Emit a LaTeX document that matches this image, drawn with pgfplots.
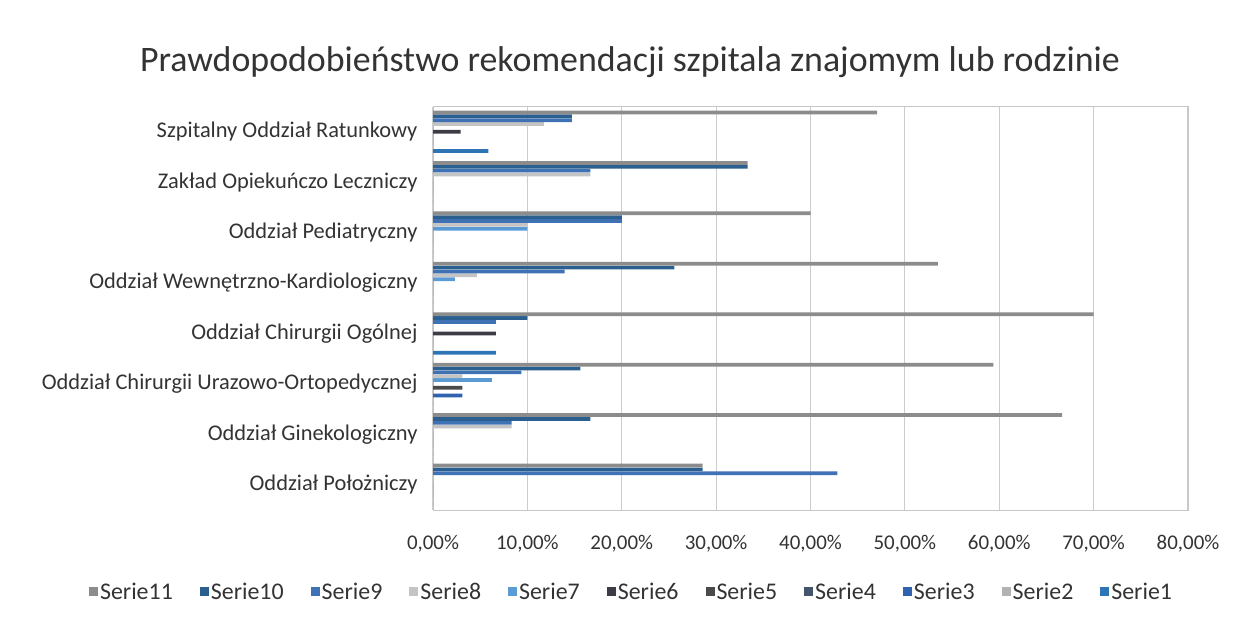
\documentclass[border=0pt]{standalone}
\usepackage{fontspec}
\setmainfont{Carlito}
\usepackage{pgfplots}
\pgfplotsset{compat=1.18}
\usepackage{pgfplotstable}
\definecolor{txt}{HTML}{333333}
\definecolor{c1}{HTML}{2E75B6}
\definecolor{c2}{HTML}{B2B2B2}
\definecolor{c3}{HTML}{2F63B0}
\definecolor{c4}{HTML}{44546A}
\definecolor{c5}{HTML}{4A4A4A}
\definecolor{c6}{HTML}{3C3C46}
\definecolor{c7}{HTML}{5B9BD5}
\definecolor{c8}{HTML}{C4C4C4}
\definecolor{c9}{HTML}{3F72B5}
\definecolor{c10}{HTML}{2A5F8F}
\definecolor{c11}{HTML}{8C8C8C}
\pgfplotsset{/pgfplots/xbar legend/.style={/pgfplots/legend image code/.code={\fill[##1] (2bp,-4.5bp) rectangle (11bp,4.5bp);}}}
% y: 0 = Oddzial Polozniczy ... 7 = Szpitalny Oddzial Ratunkowy
\pgfplotstableread{
y s1 s2 s3 s4 s5 s6 s7 s8 s9 s10 s11
0 0 0 0 0 0 0 0 0 42.86 28.57 28.57
1 0 0 0 0 0 0 0 8.33 8.33 16.67 66.67
2 0 0 3.125 0 3.125 0 6.25 3.125 9.375 15.625 59.375
3 6.67 0 0 0 0 6.67 0 0 6.67 10 70
4 0 0 0 0 0 0 2.33 4.65 13.95 25.58 53.49
5 0 0 0 0 0 0 10 10 20 20 40
6 0 0 0 0 0 0 0 16.67 16.67 33.33 33.33
7 5.88 0 0 0 0 2.94 0 11.76 14.71 14.71 47.06
}\data
\begin{document}
\begin{tikzpicture}
\useasboundingbox (0,0) rectangle (1247bp,622bp);
\node[font=\fontsize{36}{42}\selectfont, text=txt] at (630bp,560bp) {Prawdopodobieństwo rekomendacji szpitala znajomym lub rodzinie};
\begin{axis}[
  at={(433bp,112bp)}, anchor=south west,
  width=755bp, height=403.5bp, scale only axis,
  xmin=0, xmax=80, ymin=-0.5, ymax=7.5,
  xbar, bar width=3.7bp,
  x axis line style={draw=none},
  y axis line style={draw=gray!45, line width=1bp},
  xmajorgrids, grid style={draw=gray!40, line width=1.2bp},
  major tick length=0pt,
  xtick={0,10,...,80},
  xticklabels={{0,00\%},{10,00\%},{20,00\%},{30,00\%},{40,00\%},{50,00\%},{60,00\%},{70,00\%},{80,00\%}},
  ytick={0,...,7},
  yticklabels={Oddział Położniczy, Oddział Ginekologiczny, Oddział Chirurgii Urazowo-Ortopedycznej, Oddział Chirurgii Ogólnej, Oddział Wewnętrzno-Kardiologiczny, Oddział Pediatryczny, Zakład Opiekuńczo Leczniczy, Szpitalny Oddział Ratunkowy},
  yticklabel style={font=\fontsize{22.5}{26}\selectfont, text=txt, xshift=-12bp},
  xticklabel style={font=\fontsize{21}{25}\selectfont, text=txt, yshift=-22bp},
  /pgf/number format/assume math mode=true,
  legend columns=-1,
  reverse legend,
  legend style={at={(0.263,-0.2032)}, anchor=center, draw=none, fill=none,
    font=\fontsize{24}{28}\selectfont, text=txt,
    /tikz/every even column/.append style={column sep=25bp}},
]
\addplot[draw=none, fill=c1, bar shift=-19.25bp] table[x=s1, y=y] {\data};
\addplot[draw=none, fill=c2, bar shift=-15.4bp] table[x=s2, y=y] {\data};
\addplot[draw=none, fill=c3, bar shift=-11.55bp] table[x=s3, y=y] {\data};
\addplot[draw=none, fill=c4, bar shift=-7.7bp] table[x=s4, y=y] {\data};
\addplot[draw=none, fill=c5, bar shift=-3.85bp] table[x=s5, y=y] {\data};
\addplot[draw=none, fill=c6, bar shift=0bp] table[x=s6, y=y] {\data};
\addplot[draw=none, fill=c7, bar shift=3.85bp] table[x=s7, y=y] {\data};
\addplot[draw=none, fill=c8, bar shift=7.7bp] table[x=s8, y=y] {\data};
\addplot[draw=none, fill=c9, bar shift=11.55bp] table[x=s9, y=y] {\data};
\addplot[draw=none, fill=c10, bar shift=15.4bp] table[x=s10, y=y] {\data};
\addplot[draw=none, fill=c11, bar shift=19.25bp] table[x=s11, y=y] {\data};
\legend{Serie1,Serie2,Serie3,Serie4,Serie5,Serie6,Serie7,Serie8,Serie9,Serie10,Serie11}
\end{axis}
\end{tikzpicture}
\end{document}
